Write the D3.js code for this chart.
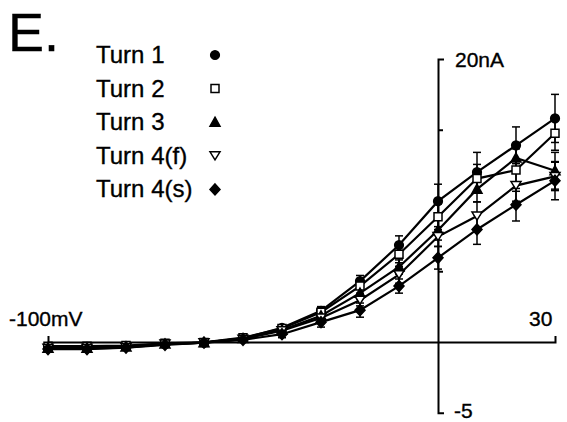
<!DOCTYPE html>
<meta charset="utf-8">
<title>I-V curves, turns 1-4</title>
<style>
  body { margin: 0; background: #fff; }
  svg { font-family: "Liberation Sans", Arial, sans-serif; }
  svg text { fill: #000; stroke: #000; stroke-width: 0.35; }
  .axis path, .axis line { stroke: #000; stroke-width: 2; fill: none; }
  .trace { fill: none; stroke: #000; stroke-width: 2.2; }
  .err { stroke: #000; stroke-width: 1.5; }
</style>
<body>
<script src="https://cdn.jsdelivr.net/npm/d3@7"></script>
<script>
  // voltage steps (mV)
  var volts = [-100, -90, -80, -70, -60, -50, -40, -30, -20, -10, 0, 10, 20, 30];

  // currents (nA)
  var turn1  = [-0.35, -0.35, -0.3, -0.15, -0.05, 0.25, 1.0, 2.2, 4.3, 6.85, 9.95, 12.0, 13.9, 15.8];
  var turn2  = [-0.3, -0.3, -0.25, -0.1, -0.03, 0.3, 0.95, 2.1, 3.95, 6.2, 8.85, 11.55, 12.15, 14.75];
  var turn3  = [-0.45, -0.45, -0.35, -0.15, -0.05, 0.25, 0.85, 1.85, 3.45, 5.3, 7.9, 10.8, 13.0, 12.1];
  var turn4f = [-0.45, -0.45, -0.4, -0.15, -0.05, 0.2, 0.8, 1.7, 2.95, 4.75, 7.45, 8.9, 11.05, 11.7];
  var turn4s = [-0.5, -0.5, -0.4, -0.2, -0.05, 0.15, 0.55, 1.4, 2.25, 3.95, 5.95, 7.95, 9.7, 11.4];

  // error bars (nA)
  var err1  = [0.1, 0.1, 0.1, 0.1, 0.1, 0.15, 0.2, 0.3, 0.4, 0.65, 1.2, 1.4, 1.3, 1.7];
  var err2  = [0.1, 0.1, 0.1, 0.1, 0.1, 0.15, 0.2, 0.35, 0.5, 0.6, 0.9, 1.0, 1.5, 1.2];
  var err3  = [0.1, 0.1, 0.1, 0.1, 0.1, 0.15, 0.2, 0.3, 0.4, 0.5, 0.7, 0.9, 1.0, 1.3];
  var err4f = [0.1, 0.1, 0.1, 0.1, 0.1, 0.15, 0.2, 0.3, 0.4, 0.6, 0.7, 1.0, 1.1, 1.0];
  var err4s = [0.1, 0.1, 0.1, 0.1, 0.1, 0.15, 0.25, 0.35, 0.5, 0.5, 0.8, 1.05, 1.15, 1.35];

  var names = ["Turn 1", "Turn 2", "Turn 3", "Turn 4(f)", "Turn 4(s)"];

  var series = [
    { name: names[0], values: turn1,  err: err1,  shape: "circle",   filled: true },
    { name: names[1], values: turn2,  err: err2,  shape: "square",   filled: false },
    { name: names[2], values: turn3,  err: err3,  shape: "triangle", filled: true },
    { name: names[3], values: turn4f, err: err4f, shape: "down",     filled: false },
    { name: names[4], values: turn4s, err: err4s, shape: "diamond",  filled: true }
  ];

  var width = 567, height = 422;

  var x = d3.scaleLinear().domain([-100, 30]).range([48, 555]);
  var y = d3.scaleLinear().domain([-5, 20]).range([412.7, 59]);

  var svg = d3.select("body").append("svg")
      .attr("width", width)
      .attr("height", height);

  // axes crossing at the origin
  svg.append("g")
      .attr("class", "axis")
      .attr("transform", "translate(0," + y(0) + ")")
      .call(d3.axisTop(x).tickValues([]).tickSizeOuter(6));

  svg.append("g")
      .attr("class", "axis")
      .attr("transform", "translate(" + x(0) + ",0)")
      .call(d3.axisRight(y).tickValues([5, 10, 15]).tickSizeInner(5).tickSizeOuter(6).tickFormat(""));

  function symbolPath(shape) {
    switch (shape) {
      case "circle":   return d3.symbol().type(d3.symbolCircle).size(60)();
      case "square":   return "M-4,-4H4V4H-4Z";
      case "triangle": return "M0,-5L5,4H-5Z";
      case "down":     return "M0,4L5,-4H-5Z";
      case "diamond":  return "M0,-5.5L5,0L0,5.5L-5,0Z";
    }
  }

  var line = d3.line()
      .x(function(d) { return x(d[0]); })
      .y(function(d) { return y(d[1]); });

  // error bars first
  series.forEach(function(s) {
    var g = svg.append("g");
    volts.forEach(function(v, i) {
      var top = y(s.values[i] + s.err[i]), bot = y(s.values[i] - s.err[i]), cx = x(v);
      g.append("line").attr("class", "err").attr("x1", cx).attr("x2", cx).attr("y1", top).attr("y2", bot);
      g.append("line").attr("class", "err").attr("x1", cx - 4).attr("x2", cx + 4).attr("y1", top).attr("y2", top);
      g.append("line").attr("class", "err").attr("x1", cx - 4).attr("x2", cx + 4).attr("y1", bot).attr("y2", bot);
    });
  });

  series.forEach(function(s) {
    svg.append("path")
        .attr("class", "trace")
        .attr("d", line(volts.map(function(v, i) { return [v, s.values[i]]; })));
  });

  series.forEach(function(s) {
    svg.append("g").selectAll("path")
        .data(volts)
        .join("path")
        .attr("transform", function(v, i) { return "translate(" + x(v) + "," + y(s.values[i]) + ")"; })
        .attr("d", symbolPath(s.shape))
        .attr("fill", s.filled ? "#000" : "#fff")
        .attr("stroke", "#000")
        .attr("stroke-width", 1.5);
  });

  // axis labels
  svg.append("text").attr("x", 455).attr("y", 67).attr("font-size", 21).text("20nA");
  svg.append("text").attr("x", 9).attr("y", 326).attr("font-size", 21).text("-100mV");
  svg.append("text").attr("x", 529).attr("y", 326).attr("font-size", 21).text("30");
  svg.append("text").attr("x", 454).attr("y", 418).attr("font-size", 21).text("-5");

  // panel letter
  svg.append("text").attr("x", 8).attr("y", 51).attr("font-size", 54).text("E.");

  // legend
  var legend = svg.append("g");
  series.forEach(function(s, i) {
    var by = 63 + i * 33.6;
    legend.append("text").attr("x", 96).attr("y", by).attr("font-size", 24).text(s.name);
    legend.append("path")
        .attr("transform", "translate(215," + (by - 8) + ")")
        .attr("d", symbolPath(s.shape))
        .attr("fill", s.filled ? "#000" : "#fff")
        .attr("stroke", "#000")
        .attr("stroke-width", 1.5);
  });
</script>
</body>
</html>
